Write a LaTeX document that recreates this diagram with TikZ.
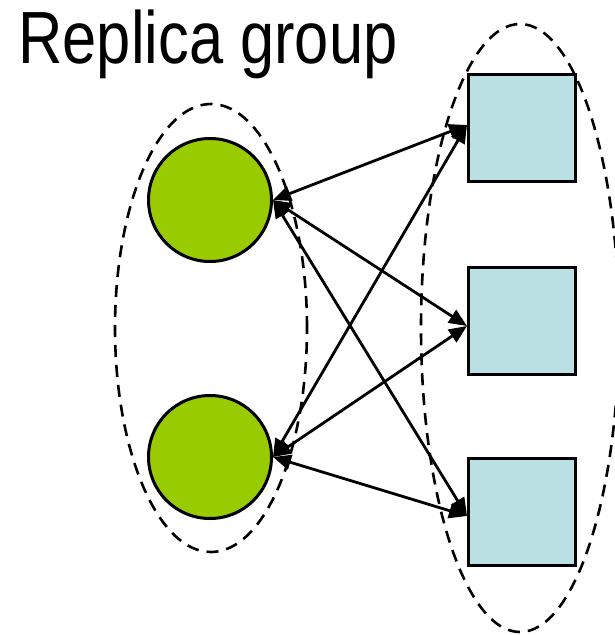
\documentclass[tikz,border=0pt]{standalone}
\usepackage{fontspec}
\newfontfamily\titlefont[FakeStretch=0.83]{Liberation Sans}
\usetikzlibrary{arrows.meta, calc}

\definecolor{srvgreen}{HTML}{99CC00}
\definecolor{repblue}{HTML}{BBE0E3}

\begin{document}
\begin{tikzpicture}[x=1pt, y=-1pt, line width=3pt,
    >={Triangle[length=18pt, width=15pt]},
    server/.style={circle, draw, fill=srvgreen, minimum size=123pt, inner sep=0pt},
    replica/.style={rectangle, draw, fill=repblue, minimum size=107pt, inner sep=0pt},
    group/.style={line width=2.6pt, dash pattern=on 12pt off 8pt}]
  \useasboundingbox (0,0) rectangle (614,635);
  % titulo
  \node[anchor=base west, inner sep=0pt, font=\titlefont\fontsize{74}{80}\selectfont]
    (title) at (17,63) {Replica group};
  % grupos (elipses punteadas)
  \draw[group] (211,328) ellipse [x radius=96pt, y radius=224pt];
  \draw[group] (520,328) ellipse [x radius=99pt, y radius=304pt];
  % servidores
  \node[server] (srvA) at (210,200) {};
  \node[server] (srvB) at (210,457) {};
  % replicas
  \node[replica] (repA) at (522,128) {};
  \node[replica] (repB) at (522,321) {};
  \node[replica] (repC) at (522,512) {};
  % puntos de llegada
  \coordinate (inA) at ($(repA.west)+(0,-3)$);
  \coordinate (inB) at ($(repB.west)+(0,5)$);
  \coordinate (inC) at ($(repC.west)+(0,4)$);
  % flechas
  \foreach \s in {srvA, srvB}
    \foreach \r in {inA, inB, inC}
      \draw[<->, line width=2.8pt] (\s.east) -- (\r);
\end{tikzpicture}
\end{document}
